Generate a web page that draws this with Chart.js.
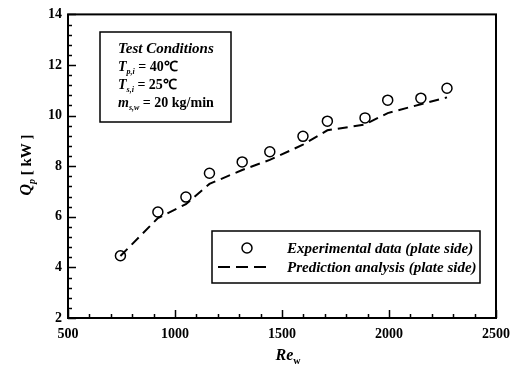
<!DOCTYPE html>
<html><head><meta charset="utf-8">
<script src="https://cdn.jsdelivr.net/npm/chart.js@4.4.0/dist/chart.umd.min.js"></script>
<style>html,body{margin:0;padding:0;background:#fff}#wrap{width:518px;height:374px}</style>
</head><body><div id="wrap"><canvas id="c" width="518" height="374"></canvas></div>
<script>
const reynolds = [745, 920, 1051, 1161, 1314, 1443, 1598, 1712, 1888, 1994, 2149, 2271];
const experimentalQ = [4.46, 6.19, 6.78, 7.72, 8.17, 8.57, 9.18, 9.78, 9.91, 10.61, 10.69, 11.08];
const predictedQ = [4.45, 5.95, 6.5, 7.3, 7.85, 8.25, 8.85, 9.42, 9.65, 10.1, 10.45, 10.72];
const xTicks = [500, 1000, 1500, 2000, 2500];
const yTicks = [2, 4, 6, 8, 10, 12, 14];
const seriesNames = ['Experimental data (plate side)', 'Prediction analysis (plate side)'];

const SERIF = '"Liberation Serif", "Times New Roman", serif';

function rich(ctx, x, y, parts) {
  let cx = x;
  for (const p of parts) {
    ctx.font = p.f;
    ctx.fillText(p.t, cx, y + (p.dy || 0));
    cx += ctx.measureText(p.t).width;
  }
  return cx - x;
}
function richWidth(ctx, parts) {
  let w = 0;
  for (const p of parts) { ctx.font = p.f; w += ctx.measureText(p.t).width; }
  return w;
}

const decor = {
  id: 'decor',
  afterDraw(chart) {
    const ctx = chart.ctx, a = chart.chartArea;
    const xs = chart.scales.x, ys = chart.scales.y;
    ctx.save();
    ctx.strokeStyle = '#000'; ctx.fillStyle = '#000';
    // frame
    ctx.lineWidth = 2;
    ctx.strokeRect(a.left, a.top, a.right - a.left, a.bottom - a.top);
    // ticks
    ctx.lineWidth = 1.5;
    for (let v = 500; v <= 2500; v += 100) {
      const px = Math.round(xs.getPixelForValue(v)) + 0.5;
      const len = (v % 500 === 0) ? 8 : 4;
      ctx.beginPath(); ctx.moveTo(px, a.bottom); ctx.lineTo(px, a.bottom - len); ctx.stroke();
    }
    for (let i = 0; i <= 30; i++) {
      const v = 2 + i * 0.4;
      const py = Math.round(ys.getPixelForValue(v)) + 0.5;
      const len = (i % 5 === 0) ? 8 : 4;
      ctx.beginPath(); ctx.moveTo(a.left, py); ctx.lineTo(a.left + len, py); ctx.stroke();
    }
    // conditions box
    ctx.lineWidth = 1.5;
    ctx.fillStyle = '#fff';
    ctx.fillRect(100, 32, 131, 90);
    ctx.strokeRect(100, 32, 131, 90);
    ctx.fillStyle = '#000';
    ctx.textBaseline = 'alphabetic';
    const bi = 'italic bold 14px ' + SERIF, b = 'bold 14px ' + SERIF, sub = 'italic bold 8px ' + SERIF;
    rich(ctx, 118, 53, [{t: 'Test Conditions', f: 'italic bold 15px ' + SERIF}]);
    rich(ctx, 118, 71, [{t: 'T', f: bi}, {t: 'p,i', f: sub, dy: 3}, {t: ' = 40\u2103', f: b}]);
    rich(ctx, 118, 89, [{t: 'T', f: bi}, {t: 's,i', f: sub, dy: 3}, {t: ' = 25\u2103', f: b}]);
    rich(ctx, 118, 107, [{t: 'm', f: bi}, {t: 's,w', f: sub, dy: 3}, {t: ' = 20 kg/min', f: b}]);
    // legend box
    ctx.fillStyle = '#fff';
    ctx.fillRect(212, 231, 268, 52);
    ctx.strokeRect(212, 231, 268, 52);
    ctx.fillStyle = '#000';
    const ds0 = chart.data.datasets[0], ds1 = chart.data.datasets[1];
    ctx.lineWidth = ds0.borderWidth;
    ctx.beginPath(); ctx.arc(247, 248, ds0.pointRadius, 0, Math.PI * 2); ctx.stroke();
    ctx.lineWidth = ds1.borderWidth;
    for (const sx of [218, 236, 254]) {
      ctx.beginPath(); ctx.moveTo(sx, 267); ctx.lineTo(sx + 12, 267); ctx.stroke();
    }
    const lf = 'italic bold 15px ' + SERIF;
    rich(ctx, 287, 253, [{t: ds0.label, f: lf}]);
    rich(ctx, 287, 272, [{t: ds1.label, f: lf}]);
    // x title
    const xt = [{t: 'Re', f: 'italic bold 16px ' + SERIF}, {t: 'w', f: 'bold 10px ' + SERIF, dy: 4}];
    rich(ctx, 288 - richWidth(ctx, xt) / 2, 360, xt);
    // y title
    ctx.save();
    ctx.translate(31, 165);
    ctx.rotate(-Math.PI / 2);
    const yt = [{t: 'Q', f: 'italic bold 16px ' + SERIF}, {t: 'p', f: 'italic bold 10px ' + SERIF, dy: 4}, {t: ' [ kW ]', f: 'bold 15px ' + SERIF}];
    rich(ctx, -richWidth(ctx, yt) / 2, 0, yt);
    ctx.restore();
    ctx.restore();
  }
};

new Chart(document.getElementById('c'), {
  type: 'line',
  data: {
    datasets: [
      {
        label: seriesNames[0],
        data: reynolds.map((x, i) => ({x, y: experimentalQ[i]})),
        showLine: false,
        pointStyle: 'circle',
        pointRadius: 5,
        pointBorderWidth: 1.5,
        borderWidth: 1.5,
        pointBorderColor: '#000',
        pointBackgroundColor: 'rgba(0,0,0,0)',
        borderColor: '#000',
        backgroundColor: 'rgba(0,0,0,0)'
      },
      {
        label: seriesNames[1],
        data: reynolds.map((x, i) => ({x, y: predictedQ[i]})),
        borderColor: '#000',
        borderWidth: 2,
        borderDash: [10, 6],
        pointRadius: 0,
        tension: 0,
        fill: false
      }
    ]
  },
  options: {
    responsive: false,
    animation: false,
    devicePixelRatio: 1,
    layout: {padding: {left: 0, right: 11, top: 11, bottom: 0}},
    plugins: {legend: {display: false}, tooltip: {enabled: false}},
    scales: {
      x: {
        type: 'linear', min: 500, max: 2500,
        afterBuildTicks: s => { s.ticks = xTicks.map(v => ({value: v})); },
        afterFit: s => { s.height = 56; },
        grid: {display: false, drawTicks: false},
        border: {display: false},
        ticks: {color: '#000', padding: 8, maxRotation: 0, callback: v => String(v), font: {family: SERIF, size: 14, weight: 'bold'}}
      },
      y: {
        type: 'linear', min: 2, max: 14,
        afterBuildTicks: s => { s.ticks = yTicks.map(v => ({value: v})); },
        afterFit: s => { s.width = 68; },
        grid: {display: false, drawTicks: false},
        border: {display: false},
        ticks: {color: '#000', padding: 6, callback: v => String(v), font: {family: SERIF, size: 14, weight: 'bold'}}
      }
    }
  },
  plugins: [decor]
});
</script>
</body></html>
